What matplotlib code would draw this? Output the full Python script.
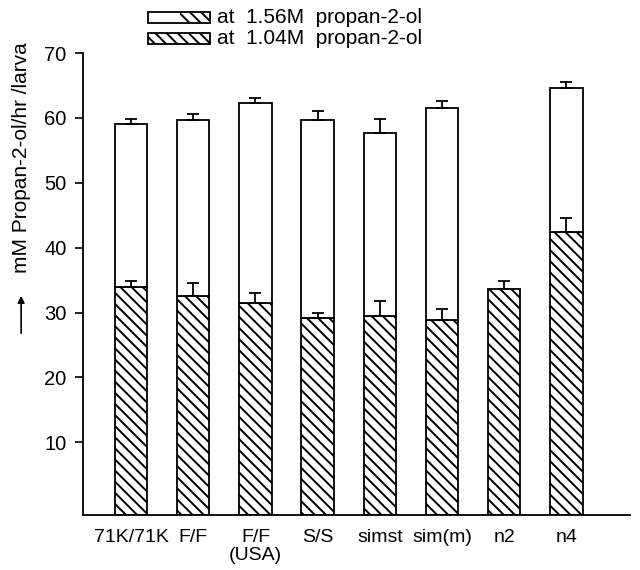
import numpy as np
import matplotlib
matplotlib.use('Agg')
import matplotlib.pyplot as plt
from matplotlib.patches import Rectangle

# values (mM propan-2-ol / hr / larva)
strains = ['71K/71K', 'F/F', 'F/F\n(USA)', 'S/S', 'simst', 'sim(m)', 'n2', 'n4']
low_conc = [34.0, 32.5, 31.4, 29.1, 29.5, 28.9, 33.7, 42.4]      # at 1.04M
low_err = [0.8, 2.0, 1.6, 0.9, 2.3, 1.6, 1.1, 2.2]
high_conc = [59.1, 59.7, 62.3, 59.7, 57.7, 61.5, np.nan, 64.6]  # at 1.56M
high_err = [0.8, 0.9, 0.8, 1.4, 2.2, 1.1, np.nan, 1.0]

plt.rcParams['font.family'] = ['Liberation Sans', 'DejaVu Sans']
plt.rcParams['hatch.linewidth'] = 1.4

fig = plt.figure(figsize=(6.4, 5.7), dpi=100)
ax = fig.add_axes([0.13, 0.0965, 0.854, 0.8105])

ybottom = -1.2
x = np.arange(len(strains))
low = np.array(low_conc)
high = np.array(high_conc)
has_high = ~np.isnan(high)
w = 0.52
hatch = '\\\\\\'

ax.bar(x, low - ybottom, bottom=ybottom, width=w, color='white',
       edgecolor='black', hatch=hatch, linewidth=1.3, zorder=2)
ax.bar(x[has_high], high[has_high] - low[has_high], bottom=low[has_high],
       width=w, color='white', edgecolor='black', linewidth=1.3, zorder=2)

ax.errorbar(x, low, yerr=[np.zeros(len(x)), low_err], fmt='none',
            ecolor='black', elinewidth=1.3, capsize=4.5, capthick=1.3, zorder=3)
ax.errorbar(x[has_high], high[has_high],
            yerr=[np.zeros(has_high.sum()), np.array(high_err)[has_high]],
            fmt='none', ecolor='black', elinewidth=1.3, capsize=4.5,
            capthick=1.3, zorder=3)

ax.set_xlim(-0.77, len(x) - 1 + 1.02)
ax.set_ylim(ybottom, 70)
ax.set_yticks(range(10, 71, 10))
ax.set_xticks(x)
ax.set_xticklabels(strains, fontsize=14, linespacing=1.05)
ax.tick_params(axis='x', length=0, pad=10)
ax.tick_params(axis='y', direction='out', length=6, width=1.2, labelsize=14.5, pad=6)
ax.spines['top'].set_visible(False)
ax.spines['right'].set_visible(False)
for s in ('left', 'bottom'):
    ax.spines[s].set_linewidth(1.3)

# y label with an upward arrow below it
fig.text(0.033, 0.724, 'mM Propan-2-ol/hr /larva', rotation=90,
         ha='center', va='center', fontsize=15)
ax.annotate('', xy=(0.033, (570 - 293) / 570), xytext=(0.033, (570 - 336) / 570),
            xycoords='figure fraction', textcoords='figure fraction',
            arrowprops=dict(arrowstyle='-|>', lw=1.2, color='black',
                            mutation_scale=10))

# legend drawn above the axes
bx, bw, bh = 148 / 640, 62 / 640, 11.5 / 570
rows = [(1 - 23.3 / 570, 'at  1.56M  propan-2-ol', True),
        (1 - 44.3 / 570, 'at  1.04M  propan-2-ol', False)]
for y0, label, split in rows:
    if split:
        fig.patches.append(Rectangle((bx, y0), bw, bh, transform=fig.transFigure,
                                     facecolor='white', edgecolor='black', lw=1.3))
        fig.patches.append(Rectangle((bx + bw * 0.52, y0), bw * 0.48, bh,
                                     transform=fig.transFigure, facecolor='none',
                                     edgecolor='black', lw=0, hatch=hatch))
    else:
        fig.patches.append(Rectangle((bx, y0), bw, bh, transform=fig.transFigure,
                                     facecolor='white', edgecolor='black', lw=1.3,
                                     hatch=hatch))
    fig.text(217 / 640, y0 + bh / 2, label, ha='left', va='center', fontsize=15)

fig.savefig('out.png', dpi=100)
